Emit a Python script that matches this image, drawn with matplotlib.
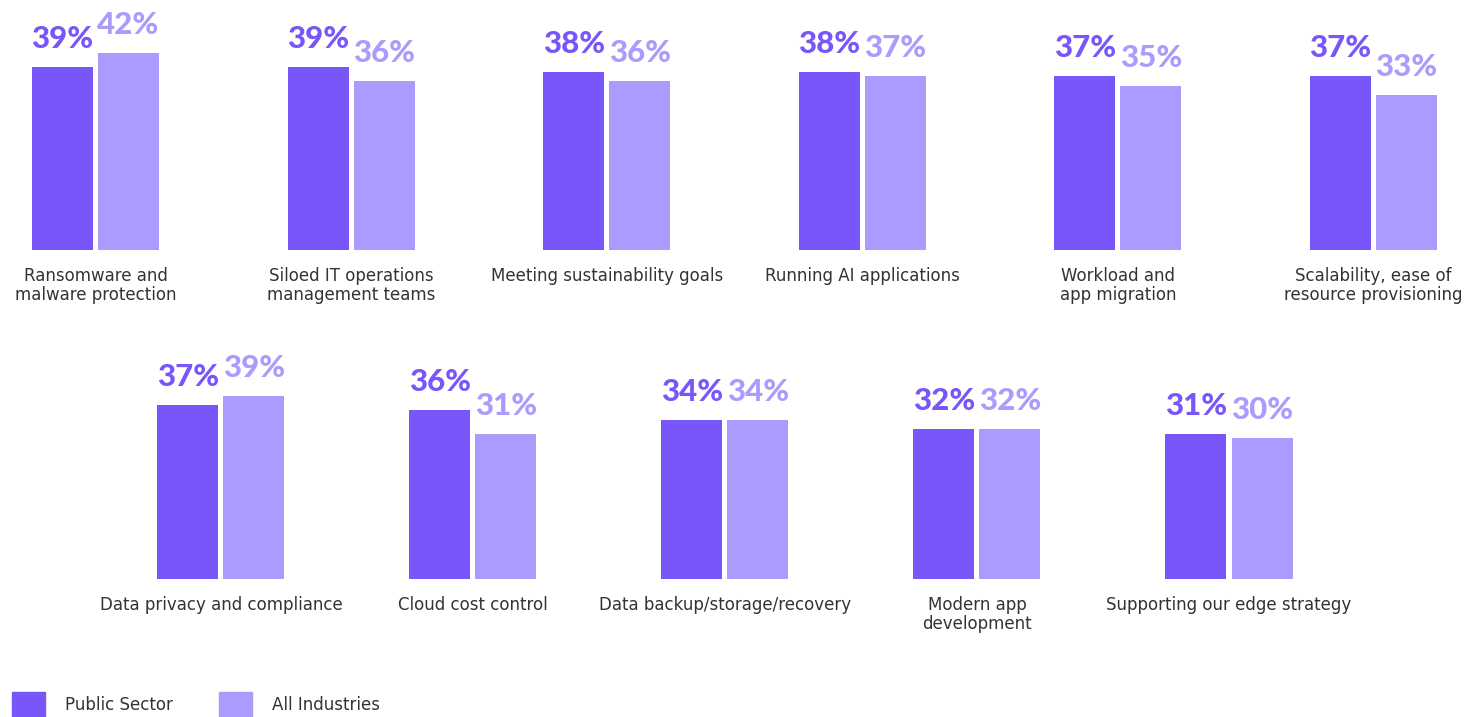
import matplotlib
matplotlib.use("Agg")
import matplotlib.pyplot as plt
from matplotlib.patches import Rectangle
import numpy as np

# ---- data ----
top_categories = ["Ransomware and\nmalware protection", "Siloed IT operations\nmanagement teams",
                  "Meeting sustainability goals", "Running AI applications",
                  "Workload and\napp migration", "Scalability, ease of\nresource provisioning"]
top_public = [39, 39, 38, 38, 37, 37]
top_all = [42, 36, 36, 37, 35, 33]

bottom_categories = ["Data privacy and compliance", "Cloud cost control",
                     "Data backup/storage/recovery", "Modern app\ndevelopment",
                     "Supporting our edge strategy"]
bottom_public = [37, 36, 34, 32, 31]
bottom_all = [39, 31, 34, 32, 30]

series_names = ["Public Sector", "All Industries"]

# ---- style ----
DARK = "#7856FA"
LIGHT = "#AC9BFC"
TEXT = "#333333"
W, H = 1466, 717
DPI = 100
PX_PER_PCT = 4.69
PT = 72 / DPI  # points per pixel

fig = plt.figure(figsize=(W / DPI, H / DPI), dpi=DPI)
fig.patch.set_facecolor("white")


def make_row(first_center, spacing, baseline, height, cats, pub, allv):
    ax = fig.add_axes([0, (H - baseline) / H, 1, height / H])
    ax.set_xlim(-first_center / spacing, (W - first_center) / spacing)
    ax.set_ylim(0, height / PX_PER_PCT)
    ax.axis("off")
    x = np.arange(len(cats))
    bw = 61 / spacing
    off = 33 / spacing
    ax.bar(x - off, pub, width=bw, color=DARK)
    ax.bar(x + off, allv, width=bw, color=LIGHT)
    for xs, vals, col in [(x - off, pub, DARK), (x + off, allv, LIGHT)]:
        for xi, v in zip(xs, vals):
            ax.annotate(f"{v}%", (xi, v), xytext=(0, 19 * PT), textcoords="offset points",
                        ha="center", va="baseline", fontsize=22.5, fontweight="black",
                        family=["Lato", "DejaVu Sans"], color=col, annotation_clip=False)
    for xi, c in zip(x, cats):
        ax.annotate(c, (xi, 0), xytext=(0, -17 * PT), textcoords="offset points",
                    ha="center", va="top", fontsize=12, color=TEXT,
                    linespacing=1.1, annotation_clip=False)
    return ax


make_row(95.5, 255.6, 250, 250, top_categories, top_public, top_all)
make_row(221, 252, 579, 250, bottom_categories, bottom_public, bottom_all)

# legend
for (x0, name, col) in [(12, series_names[0], DARK), (219, series_names[1], LIGHT)]:
    fig.add_artist(Rectangle((x0 / W, (H - 717) / H), 33 / W, 25 / H,
                             transform=fig.transFigure, color=col))
    fig.text((x0 + 53) / W, (H - 705) / H, name, ha="left", va="center",
             fontsize=12, color=TEXT)

fig.savefig("out.png", dpi=DPI, facecolor="white")
